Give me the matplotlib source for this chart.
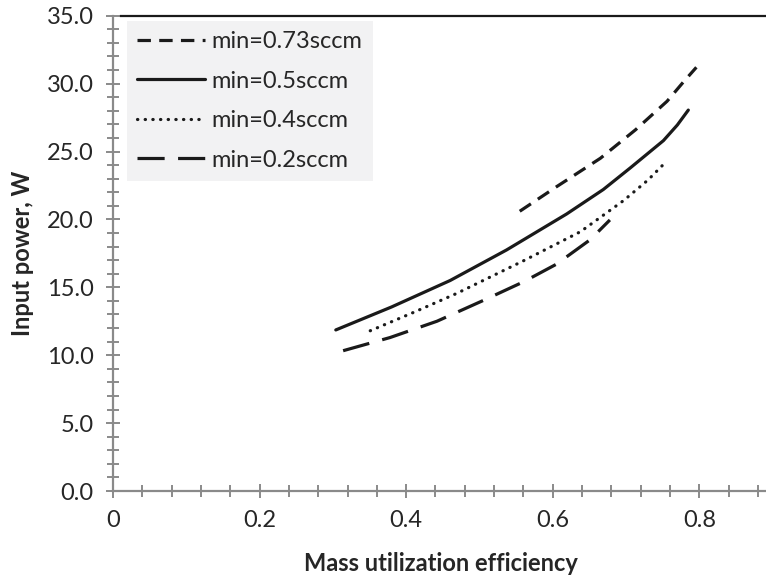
import matplotlib
matplotlib.use("Agg")
import matplotlib.pyplot as plt
from matplotlib.ticker import MultipleLocator, FuncFormatter

plt.rcParams['font.family'] = ['Lato', 'DejaVu Sans']

# series: mass utilization efficiency vs input power (W)
labels = ["min=0.73sccm", "min=0.5sccm", "min=0.4sccm", "min=0.2sccm"]

eff_073 = [0.555, 0.605, 0.665, 0.713, 0.756, 0.778, 0.796]
pow_073 = [20.6, 22.4, 24.5, 26.6, 28.7, 30.1, 31.2]

eff_05 = [0.304, 0.380, 0.460, 0.537, 0.619, 0.669, 0.706, 0.751, 0.770, 0.785]
pow_05 = [11.86, 13.55, 15.5, 17.75, 20.4, 22.2, 23.8, 25.8, 26.95, 28.05]

eff_04 = [0.351, 0.410, 0.469, 0.560, 0.638, 0.697, 0.730, 0.752]
pow_04 = [11.8, 13.15, 14.55, 16.95, 19.1, 21.4, 22.9, 24.1]

eff_02 = [0.314, 0.378, 0.442, 0.506, 0.560, 0.605, 0.651, 0.678]
pow_02 = [10.33, 11.3, 12.5, 14.05, 15.4, 16.7, 18.5, 19.96]

W, H = 766, 578
fig = plt.figure(figsize=(W / 100, H / 100), dpi=100)
ax = fig.add_axes([113 / W, 87 / H, 653 / W, 475.3 / H])

lw = 2.3
ax.plot(eff_073, pow_073, color='#1a1a1a', lw=lw, dashes=(4.2, 2.6), label=labels[0])
ax.plot(eff_05, pow_05, color='#1a1a1a', lw=lw, solid_capstyle='round', label=labels[1])
ax.plot(eff_04, pow_04, color='#1a1a1a', lw=lw, dashes=(0.1, 2.3),
        dash_capstyle='round', label=labels[2])
ax.plot(eff_02, pow_02, color='#1a1a1a', lw=lw, dashes=(8.5, 4.2), label=labels[3])

ax.set_xlim(0, 0.891)
ax.set_ylim(0, 35)

ax.xaxis.set_major_locator(MultipleLocator(0.2))
ax.xaxis.set_minor_locator(MultipleLocator(0.04))
ax.yaxis.set_major_locator(MultipleLocator(5))
ax.yaxis.set_minor_locator(MultipleLocator(1))
ax.xaxis.set_major_formatter(FuncFormatter(lambda v, p: "%g" % round(v, 2)))
ax.yaxis.set_major_formatter(FuncFormatter(lambda v, p: "%.1f" % v))

grey = '#8a8a8a'
for s in ['left', 'bottom']:
    ax.spines[s].set_color(grey)
    ax.spines[s].set_linewidth(1.6)
ax.spines['right'].set_visible(False)
ax.spines['top'].set_color('#1a1a1a')
ax.spines['top'].set_linewidth(1.6)
ax.spines['top'].set_bounds(0.011, 0.891)

ax.tick_params(which='both', direction='inout', color=grey, width=1.4,
               labelsize=17, labelcolor='#262626', top=False, right=False)
ax.tick_params(which='major', length=10, pad=9)
ax.tick_params(which='minor', length=8)

ax.set_xlabel("Mass utilization efficiency", fontsize=17, fontweight='bold',
              color='#262626', va='center')
ax.xaxis.set_label_coords(0.502, -0.1515)
ax.set_ylabel("Input power, W", fontsize=17, fontweight='bold',
              color='#262626', va='center', ha='center')
ax.yaxis.set_label_coords(-0.138, 0.5)

leg = ax.legend(loc='upper left', bbox_to_anchor=(126.7 / W, 1 - 20.7 / H),
                bbox_transform=fig.transFigure, borderaxespad=0, fontsize=17,
                frameon=True, fancybox=False, framealpha=1, handlelength=2.85,
                handletextpad=0.3, labelspacing=0.78, borderpad=0.45)
leg.get_frame().set_facecolor('#f2f2f3')
leg.get_frame().set_edgecolor('none')
for t in leg.get_texts():
    t.set_color('#262626')

fig.savefig("out.png", dpi=100)
